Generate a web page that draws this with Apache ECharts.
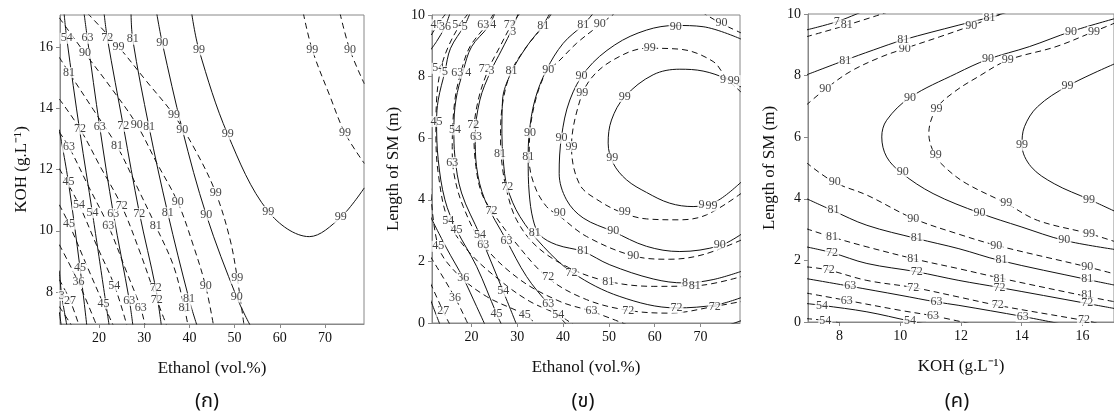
<!DOCTYPE html>
<html><head><meta charset="utf-8">
<script src="https://cdn.jsdelivr.net/npm/echarts@6/dist/echarts.min.js"></script>
<style>html,body{margin:0;padding:0;background:#fff}#c{width:1114px;height:416px}</style>
</head><body><div id="c"></div>
<script>
// ---------- axes ----------
const ethanolRange = [11.36, 78.64];
const kohRange = [6.96, 17.04];
const smRange = [0, 10];
const ethanolTicks = [20, 30, 40, 50, 60, 70];
const kohTicks = [8, 10, 12, 14, 16];
const smTicks = [0, 2, 4, 6, 8, 10];
const panelNames = ['(ก)', '(ข)', '(ค)'];
const xNames = ['Ethanol (vol.%)', 'Ethanol (vol.%)', 'KOH (g.L⁻¹)'];
const yNames = ['KOH (g.L⁻¹)', 'Length of SM (m)', 'Length of SM (m)'];

// ---------- panel ก : Ethanol vs KOH  (contours [level, points]) ----------
const A_solid = [
  [99, [[40.50,17.1],[42.12,15.90],[48.47,13.15],[57.46,10.63],[66.53,9.81],[73.47,10.44],[78.7,11.40]]],
  [90, [[32.76,17.1],[34.01,16.12],[38.44,13.30],[43.75,10.51],[50.46,7.84],[53.5,6.9]]],
  [81, [[27.08,17.1],[27.45,16.25],[31.06,13.39],[35.19,10.59],[39.9,7.78],[41.7,6.9]]],
  [72, [[21.11,17.1],[21.84,16.28],[25.38,13.41],[28.92,10.59],[32.54,8.13],[33.8,6.9]]],
  [63, [[16.68,17.1],[17.42,16.28],[20.15,13.39],[23.17,10.56],[26.71,7.73],[27.5,6.9]]],
  [54, [[12.26,17.1],[12.85,16.28],[15.80,13.19],[18.53,10.59],[22.25,6.9]]],
  [45, [[11.2,13.3],[13.22,11.59],[15.80,8.78],[17.3,6.9]]],
  [36, [[11.2,8.7],[11.74,7.89],[12.9,6.9]]],
  [27, [[11.2,7.35],[11.65,6.9]]]
];
const A_dashed = [
  [99, [[17.42,17.1],[24.28,16.01],[30.55,14.87],[36.59,13.77],[41.61,12.55],[45.81,11.25],[48.98,9.73],[50.60,8.45],[52.1,6.9]]],
  [99, [[65.21,17.1],[67.20,15.90],[71.11,14.39],[74.42,13.19],[78.7,12.2]]],
  [90, [[11.2,16.95],[16.90,15.79],[22.43,14.71],[28.33,13.47],[32.76,12.22],[37.40,10.94],[40.87,9.52],[43.60,8.19],[45.35,6.9]]],
  [90, [[73.32,17.1],[75.53,15.90],[78.7,14.8]]],
  [81, [[11.2,15.66],[13.36,15.16],[18.75,13.95],[23.98,12.76],[28.33,11.46],[32.54,10.16],[36.45,8.87],[38.7,7.62],[39.7,6.9]]],
  [72, [[11.2,14.3],[15.80,13.32],[20.22,12.11],[25.01,10.81],[29.07,9.30],[32.76,7.76],[35.0,6.9]]],
  [63, [[11.2,13.22],[13.36,12.73],[17.64,11.46],[22.06,10.16],[26.12,8.65],[29.22,7.48],[30.2,6.9]]],
  [54, [[11.2,12.03],[15.58,10.85],[19.48,9.52],[23.39,8.22],[26.2,6.9]]],
  [45, [[11.2,10.85],[13.36,10.22],[17.27,8.87],[20.96,7.62],[23.2,6.9]]],
  [36, [[11.2,9.55],[15.43,8.32],[19.5,6.9]]],
  [27, [[11.2,8.41],[13.58,7.73],[15.6,6.9]]],
  [18, [[11.2,7.53],[14.0,6.9]]]
];
const A_labels = [
  [42.12,15.90,'99'],[48.47,13.15,'99'],[57.46,10.63,'99'],[73.47,10.44,'99'],
  [34.01,16.12,'90'],[38.44,13.30,'90'],[43.75,10.51,'90'],[50.46,7.84,'90'],
  [27.45,16.25,'81'],[31.06,13.39,'81'],[35.19,10.59,'81'],[39.9,7.78,'81'],
  [21.84,16.28,'72'],[25.38,13.41,'72'],[28.92,10.56,'72'],[32.54,8.13,'72'],
  [17.42,16.28,'63'],[20.15,13.39,'63'],[23.17,10.56,'63'],[26.71,7.73,'63'],
  [12.85,16.28,'54'],[18.53,10.59,'54'],
  [13.22,11.59,'45'],[15.80,8.78,'45'],
  [11.74,7.89,'3'],
  [24.28,16.01,'99'],[36.59,13.77,'99'],[45.81,11.25,'99'],[50.60,8.45,'99'],
  [67.20,15.90,'99'],[74.42,13.19,'99'],
  [16.90,15.79,'90'],[28.33,13.47,'90'],[37.40,10.94,'90'],[43.60,8.19,'90'],
  [75.53,15.90,'90'],
  [13.36,15.16,'81'],[23.98,12.76,'81'],[32.54,10.16,'81'],[38.9,7.48,'81'],
  [15.80,13.32,'72'],[25.01,10.81,'72'],[32.76,7.76,'72'],
  [13.36,12.73,'63'],[22.06,10.16,'63'],[29.22,7.48,'63'],
  [15.58,10.85,'54'],[23.39,8.22,'54'],
  [13.36,10.22,'45'],[20.96,7.62,'45'],
  [15.43,8.32,'36'],
  [13.58,7.73,'27']
];

// ---------- panel ข : Ethanol vs Length of SM ----------
const B_solid = [
  [99, [[79,7.65],[75.68,7.93],[70.58,8.18],[65.49,8.24],[59.67,8.06],[53.48,7.35],[50.57,6.59],[49.84,5.84],[50.93,5.19],[53.84,4.65],[58.21,4.24],[63.30,3.89],[68.40,3.78],[73.49,3.95],[79,4.59]]],
  [90, [[79,9.21],[70.58,9.62],[64.61,9.66],[58.21,9.51],[51.30,9.03],[45.11,8.22],[41.47,7.24],[39.65,6.05],[39.14,4.86],[40.74,4.0],[44.38,3.41],[50.93,2.97],[58.21,2.49],[65.49,2.32],[74.22,2.51],[79,2.89]]],
  [81, [[46.56,10.05],[44.38,9.68],[40.01,9.08],[36.38,8.22],[33.83,7.24],[32.59,6.16],[32.37,5.30],[32.59,4.22],[33.46,3.35],[34.92,2.86],[38.56,2.54],[44.38,2.32],[50.20,1.89],[59.67,1.43],[66.58,1.30],[72.77,1.41],[79,1.68]]],
  [72, [[37.10,10.05],[35.28,9.6],[32.01,8.97],[28.59,8.11],[26.77,7.24],[26.63,6.16],[26.92,5.30],[27.79,4.41],[30.55,3.46],[35.65,2.49],[42.20,1.62],[52.39,0.86],[64.76,0.49],[73.49,0.59],[79,0.83]]],
  [63, [[30.19,10.05],[29.10,9.62],[26.55,8.86],[24.15,8.16],[21.82,7.24],[20.80,6.05],[21.09,5.08],[22.91,4.0],[27.64,2.68],[32.01,1.51],[36.74,0.62],[40.74,-0.05]]],
  [63, [[76.5,-0.05],[79,0.08]]],
  [54, [[25.09,10.05],[23.64,9.62],[20.0,8.97],[18.18,8.19],[16.58,7.24],[16.14,6.27],[16.36,5.41],[17.82,4.22],[21.82,2.86],[26.91,1.03],[29.83,-0.05]]],
  [45, [[19.64,10.05],[18.54,9.68],[15.41,8.92],[14.18,8.16],[12.72,7.24],[12.36,6.54],[12.72,5.30],[14.18,4.0],[16.72,3.03],[21.09,1.84],[25.46,0.30],[26.55,-0.05]]],
  [36, [[15.27,10.05],[14.18,9.61],[12.36,9.14],[11.0,8.86]]],
  [36, [[11.0,3.46],[14.54,2.43],[18.18,1.46],[21.09,0.54],[22.91,-0.05]]],
  [27, [[11.0,0.76],[13.09,-0.05]]]
];
const B_dashed = [
  [99, [[79,7.48],[75.68,7.95],[72.77,8.49],[65.49,8.89],[58.21,8.92],[50.93,8.54],[45.84,7.89],[43.29,7.03],[41.83,5.73],[43.65,4.49],[48.02,3.95],[53.12,3.57],[58.21,3.38],[65.49,3.35],[71.31,3.51],[79,4.22]]],
  [90, [[51.66,10.1],[48.02,9.68],[42.93,9.08],[38.56,8.43],[36.6,8.22],[34.19,7.35],[32.74,6.16],[32.59,5.30],[33.83,4.43],[36.38,3.78],[39.29,3.46],[45.11,2.81],[55.30,2.18],[63.30,2.07],[70.58,2.22],[79,2.70]]],
  [90, [[70.22,10.1],[74.22,9.75],[79,9.41]]],
  [81, [[37.47,10.05],[35.65,9.64],[32.01,8.97],[28.73,8.19],[26.91,7.24],[26.33,6.16],[26.55,5.30],[27.64,4.32],[29.83,3.35],[34.19,2.49],[41.47,1.78],[49.84,1.35],[59.67,1.19],[69.13,1.21],[79,1.51]]],
  [72, [[30.55,10.05],[28.73,9.68],[26.19,8.97],[23.64,8.22],[21.46,7.24],[20.51,6.16],[20.95,5.08],[22.18,4.22],[24.37,3.65],[29.10,2.70],[36.74,1.46],[45.11,0.76],[54.21,0.41],[63.30,0.32],[73.13,0.54],[79,0.70]]],
  [63, [[24.88,10.05],[23.28,9.68],[19.64,8.97],[17.82,8.22],[16.36,7.24],[15.78,5.73],[16.14,4.86],[18.18,3.78],[22.55,2.54],[30.55,1.41],[39.29,0.70],[46.20,0.38],[53.84,-0.05]]],
  [54, [[19.27,10.05],[17.45,9.68],[14.91,8.97],[13.23,8.22],[12.36,7.24],[12.21,6.16],[12.72,4.86],[14.91,3.33],[19.64,2.27],[26.91,1.30],[32.74,0.70],[38.92,0.27],[42.20,-0.05]]],
  [45, [[14.40,10.05],[12.72,9.71],[11.0,9.3]]],
  [45, [[11.0,4.5],[12.72,2.49],[16.72,1.62],[23.28,0.86],[31.64,0.27],[34.19,-0.05]]],
  [36, [[11.0,2.16],[16.36,0.83],[19.27,-0.05]]],
  [27, [[11.0,1.30],[13.81,0.38],[15.27,-0.05]]]
];
const B_labels = [
  [53.48,7.35,'99'],[50.71,5.35,'99'],[70.22,3.84,'9'],[72.40,3.80,'99'],[74.95,7.89,'9'],[77.28,7.87,'99'],
  [58.94,8.92,'99'],[44.16,7.48,'99'],[41.83,5.73,'99'],[53.48,3.6,'99'],
  [64.61,9.62,'90'],[44.02,8.02,'90'],[39.65,6.0,'90'],[50.93,3.0,'90'],[74.22,2.55,'90'],
  [48.02,9.71,'90'],[36.74,8.22,'90'],[32.74,6.18,'90'],[39.29,3.57,'90'],[55.30,2.18,'90'],[74.58,9.75,'90'],
  [44.38,9.68,'81'],[32.37,5.38,'81'],[33.83,2.92,'81'],[44.38,2.35,'81'],[66.6,1.32,'8'],
  [35.65,9.64,'81'],[28.73,8.19,'81'],[26.19,5.49,'81'],[49.84,1.35,'81'],[68.77,1.21,'81'],
  [27.79,4.41,'72'],[41.83,1.62,'72'],[64.76,0.49,'72'],
  [28.37,9.68,'72'],[22.91,8.24,'72'],[20.36,6.43,'72'],[24.37,3.65,'72'],[36.74,1.51,'72'],[54.21,0.41,'72'],[73.13,0.54,'72'],
  [29.10,9.46,'3'],[24.37,8.19,'3'],[20.95,6.05,'63'],[27.64,2.68,'63'],[36.74,0.62,'63'],
  [22.55,9.68,'63'],[16.87,8.11,'63'],[15.78,5.21,'63'],[22.55,2.54,'63'],[46.20,0.41,'63'],
  [24.73,9.68,'4'],[19.27,8.11,'4'],[16.36,6.27,'54'],[21.82,2.86,'54'],[26.91,1.03,'54'],
  [17.09,9.68,'54'],[12.72,8.27,'54'],[14.91,3.33,'54'],[38.92,0.27,'54'],
  [18.54,9.6,'5'],[14.18,8.16,'5'],[12.36,6.54,'45'],[16.72,3.03,'45'],[25.46,0.30,'45'],
  [12.36,9.68,'45'],[12.72,2.49,'45'],[31.64,0.27,'45'],
  [14.18,9.6,'36'],[18.18,1.46,'36'],[16.36,0.83,'36'],[13.81,0.38,'27']
];

// ---------- panel ค : KOH vs Length of SM ----------
const C_solid = [
  [99, [[17.1,8.40],[15.51,7.66],[14.52,6.99],[14.09,6.34],[14.01,5.74],[14.31,5.04],[15.07,4.49],[16.22,3.98],[17.1,3.58]]],
  [90, [[17.1,9.86],[15.62,9.43],[14.25,8.94],[12.89,8.53],[11.85,8.07],[10.32,7.29],[9.55,6.55],[9.39,6.01],[9.55,5.36],[10.04,4.84],[11.08,4.17],[12.61,3.54],[13.98,3.09],[15.40,2.65],[17.1,2.35]]],
  [81, [[6.9,8.02],[8.13,8.48],[9.11,8.83],[10.10,9.16],[11.93,9.64],[12.94,9.89],[13.49,10.05]]],
  [81, [[6.9,4.01],[7.75,3.63],[8.90,3.14],[10.54,2.71],[11.93,2.38],[13.27,2.0],[16.16,1.38],[17.1,1.19]]],
  [72, [[6.9,9.48],[7.91,9.75],[8.68,10.05]]],
  [72, [[6.9,2.44],[7.75,2.25],[8.90,1.90],[10.54,1.63],[11.93,1.35],[13.27,1.12],[16.16,0.60],[17.1,0.43]]],
  [63, [[6.9,1.41],[8.35,1.16],[9.99,0.87],[11.19,0.65],[11.93,0.54],[14.03,0.18],[15.23,-0.05]]],
  [54, [[6.9,0.60],[7.42,0.54],[8.90,0.33],[10.32,0.03],[10.75,-0.05]]]
];
const C_dashed = [
  [99, [[17.1,9.72],[16.38,9.43],[15.13,8.94],[13.54,8.50],[12.56,7.96],[11.79,7.48],[11.19,6.93],[10.94,6.12],[11.14,5.42],[11.52,4.98],[12.17,4.50],[13.49,3.85],[14.52,3.30],[16.22,2.87],[17.1,2.60]]],
  [90, [[6.9,7.04],[7.53,7.56],[8.35,8.13],[9.33,8.59],[10.15,8.88],[11.30,9.26],[12.34,9.62],[13.38,10.02]]],
  [90, [[6.9,5.18],[7.80,4.55],[8.90,4.12],[10.43,3.36],[11.93,2.85],[13.16,2.49],[16.16,1.79],[17.1,1.55]]],
  [81, [[6.9,9.26],[8.24,9.64],[9.55,10.05]]],
  [81, [[6.9,3.03],[7.75,2.76],[8.90,2.44],[10.54,2.03],[11.93,1.73],[13.27,1.43],[16.16,0.83],[17.1,0.65]]],
  [72, [[6.9,1.79],[7.58,1.70],[8.90,1.35],[10.43,1.12],[11.93,0.81],[13.21,0.54],[16.05,0.05],[17.1,-0.16]]],
  [63, [[6.9,0.94],[8.24,0.70],[9.99,0.38],[11.08,0.20],[12.28,-0.05]]],
  [54, [[6.9,0.11],[7.53,0.05],[8.02,-0.03]]]
];
const C_labels = [
  [15.51,7.66,'99'],[14.01,5.74,'99'],[16.22,3.98,'99'],
  [16.38,9.43,'99'],[13.54,8.50,'99'],[11.19,6.93,'99'],[11.17,5.42,'99'],[13.49,3.87,'99'],[16.22,2.87,'99'],
  [15.62,9.43,'90'],[12.89,8.53,'90'],[10.32,7.29,'90'],[10.08,4.88,'90'],[12.61,3.54,'90'],[15.40,2.67,'90'],
  [7.53,7.56,'90'],[10.15,8.88,'90'],[12.34,9.62,'90'],[7.84,4.55,'90'],[10.43,3.36,'90'],[13.16,2.47,'90'],[16.16,1.79,'90'],
  [8.19,8.48,'81'],[10.10,9.16,'81'],[12.94,9.89,'81'],[7.80,3.63,'81'],[10.54,2.73,'81'],[13.33,2.03,'81'],[16.16,1.41,'81'],
  [8.24,9.64,'81'],[7.75,2.78,'81'],[10.43,2.06,'81'],[13.27,1.41,'81'],[16.16,0.87,'81'],
  [7.91,9.75,'7'],[7.75,2.25,'72'],[10.54,1.63,'72'],[13.27,1.12,'72'],[16.16,0.62,'72'],
  [7.64,1.70,'72'],[10.43,1.12,'72'],[13.21,0.57,'72'],[16.05,0.08,'72'],
  [8.35,1.16,'63'],[11.19,0.65,'63'],[14.03,0.18,'63'],
  [8.24,0.70,'63'],[11.08,0.20,'63'],
  [7.42,0.51,'54'],[10.32,0.05,'54'],
  [7.53,0.05,'54']
];

// ---------- build chart ----------
const SERIF = 'Liberation Serif, Times New Roman, serif';
const grids = [
  {left: 60, top: 15, width: 304, height: 309},
  {left: 432, top: 15, width: 308, height: 308},
  {left: 808, top: 14, width: 307, height: 308}
];
const xRanges = [ethanolRange, ethanolRange, kohRange];
const yRanges = [kohRange, smRange, smRange];
const xTicks = [ethanolTicks, ethanolTicks, kohTicks];
const yTicks = [kohTicks, smTicks, smTicks];
const panels = [
  {solid: A_solid, dashed: A_dashed, labels: A_labels},
  {solid: B_solid, dashed: B_dashed, labels: B_labels},
  {solid: C_solid, dashed: C_dashed, labels: C_labels}
];
const subCenters = [207, 583, 957];

const series = [];
panels.forEach((p, i) => {
  const mk = (style) => ([lev, pts]) => series.push({
    type: 'line', name: (style === 'solid' ? 'S' : 'D') + lev,
    xAxisIndex: i, yAxisIndex: i, data: pts, symbol: 'none', smooth: 0.35,
    silent: true, z: 2, clip: true,
    lineStyle: {color: '#111', width: 1, type: style === 'solid' ? 'solid' : [6, 4]}
  });
  p.solid.forEach(mk('solid'));
  p.dashed.forEach(mk('dashed'));
  series.push({
    type: 'scatter', xAxisIndex: i, yAxisIndex: i, data: p.labels,
    symbolSize: 1, itemStyle: {color: 'rgba(0,0,0,0)'}, silent: true, z: 5,
    label: {show: true, position: 'inside', formatter: q => q.value[2],
      fontFamily: SERIF, fontSize: 12, color: '#111',
      backgroundColor: '#fff', padding: [0, 1, 0, 1], lineHeight: 11}
  });
});

const axisCommon = {
  type: 'value', splitLine: {show: false},
  axisLine: {show: true, onZero: false, lineStyle: {color: '#888', width: 1}},
  nameLocation: 'middle',
  nameTextStyle: {fontFamily: SERIF, fontSize: 17, color: '#111'}
};

const option = {
  animation: false,
  backgroundColor: '#fff',
  grid: grids.map(g => Object.assign({show: true, borderColor: '#888', borderWidth: 1, containLabel: false}, g)),
  xAxis: [0, 1, 2].map(i => Object.assign({}, axisCommon, {
    gridIndex: i, min: xRanges[i][0], max: xRanges[i][1],
    name: xNames[i], nameGap: 36,
    axisTick: {show: true, inside: false, length: 4, lineStyle: {color: '#888'}, customValues: xTicks[i]},
    axisLabel: {customValues: xTicks[i], fontFamily: SERIF, fontSize: 14, color: '#111', margin: 7}
  })),
  yAxis: [0, 1, 2].map(i => Object.assign({}, axisCommon, {
    gridIndex: i, min: yRanges[i][0], max: yRanges[i][1],
    name: yNames[i], nameGap: 30,
    axisTick: {show: true, inside: false, length: 4, lineStyle: {color: '#888'}, customValues: yTicks[i]},
    axisLabel: {customValues: yTicks[i], fontFamily: SERIF, fontSize: 14, color: '#111', margin: 7}
  })),
  graphic: panelNames.map((t, i) => ({
    type: 'text', x: subCenters[i], y: 403, silent: true,
    style: {text: t, align: 'center', verticalAlign: 'middle', fontSize: 20,
      fontFamily: 'Noto Sans Thai, Noto Sans, DejaVu Sans, sans-serif', fill: '#111'}
  })),
  series
};

const chart = echarts.init(document.getElementById('c'), null, {renderer: 'canvas'});
chart.setOption(option);
</script>
</body></html>
